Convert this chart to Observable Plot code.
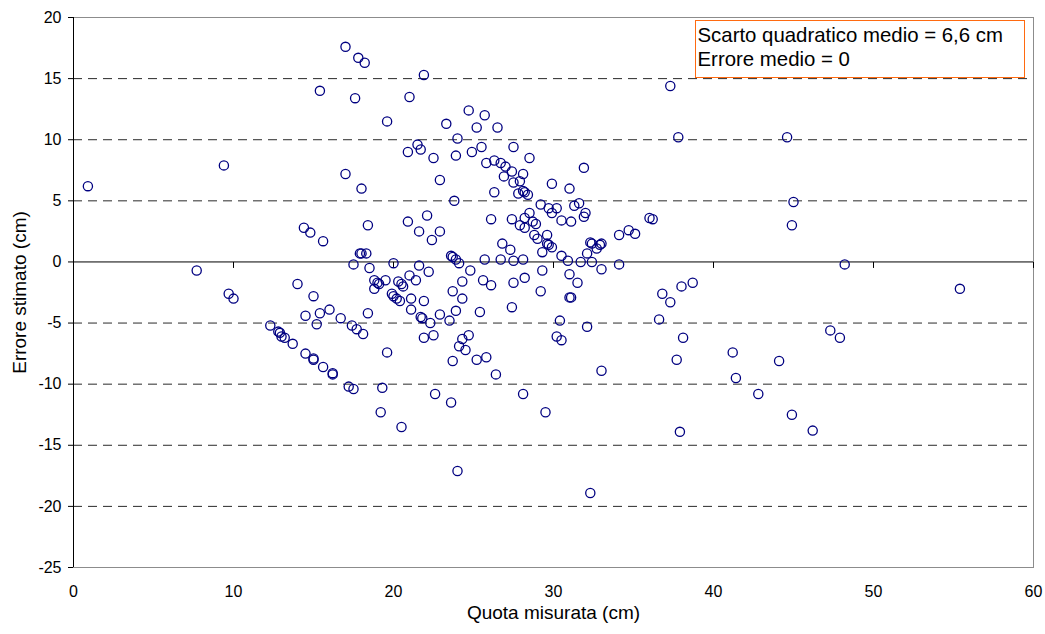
<!DOCTYPE html>
<html>
<head>
<meta charset="utf-8">
<script src="https://cdn.jsdelivr.net/npm/d3@7"></script>
<script src="https://cdn.jsdelivr.net/npm/@observablehq/plot@0.6"></script>
<style>
  body { margin: 0; background: #fff; }
  #chart { position: relative; width: 1045px; height: 634px; font-family: "Liberation Sans", Arial, sans-serif; }
  #chart svg { display: block; }
  #note {
    position: absolute; left: 695px; top: 20px; width: 330px; height: 58px;
    box-sizing: border-box; border: 1.6px solid #ff6a10; background: #fff;
    font-size: 20.4px; line-height: 24px; padding: 2px 0 0 1.5px; color: #000; white-space: nowrap;
  }
</style>
</head>
<body>
<div id="chart"><div id="note"></div></div>
<script>
// Quota misurata (cm) and the corresponding estimation error (cm)
const quota = [
  17.0, 17.8, 18.2, 15.4, 17.6, 9.4, 0.9, 17.0, 18.0, 21.9,
  21.0, 19.6, 23.3, 24.7, 25.7, 25.2, 26.5, 24.0, 21.5, 20.9,
  21.7, 22.5, 23.9, 24.9, 25.5, 27.5, 28.5, 25.8, 26.3, 26.7,
  27.0, 27.4, 26.9, 28.1, 27.5, 27.9, 27.8, 28.1, 28.2, 28.4,
  26.3, 22.9, 31.9, 29.9, 31.0, 23.8, 29.2, 29.7, 30.2, 31.3,
  31.6, 29.9, 28.5, 22.1, 32.0, 31.9, 28.2, 27.4, 26.1, 20.9,
  18.4, 21.6, 22.9, 22.4, 28.7, 28.9, 27.9, 28.2, 30.5, 31.1,
  28.8, 29.0, 29.6, 29.6, 29.7, 29.9, 29.3, 26.8, 27.3, 34.1,
  34.7, 35.1, 32.3, 32.4, 33.0, 32.9, 32.7, 32.1, 30.5, 30.9,
  31.7, 32.4, 34.1, 33.0, 31.0, 31.5, 29.3, 28.2, 27.5, 29.2,
  31.1, 31.0, 27.4, 28.1, 27.5, 26.7, 25.7, 24.8, 25.6, 26.1,
  24.3, 23.7, 24.3, 23.9, 25.4, 23.6, 23.7, 23.9, 24.1, 21.6,
  22.2, 21.4, 21.0, 20.0, 20.3, 20.5, 20.6, 19.9, 20.0, 20.2,
  20.4, 21.1, 21.9, 21.1, 21.7, 21.8, 22.3, 22.9, 23.5, 21.9,
  22.5, 24.7, 24.3, 24.1, 24.5, 23.7, 25.2, 25.8, 26.4, 28.1,
  30.4, 32.1, 30.2, 30.5, 33.0, 22.6, 23.6, 17.5, 17.9, 18.0,
  18.3, 18.5, 18.8, 19.0, 19.1, 19.5, 18.8, 18.4, 16.7, 17.4,
  17.7, 18.1, 19.6, 17.2, 17.5, 19.3, 19.2, 20.5, 24.0, 29.5,
  32.3, 14.4, 14.8, 15.6, 7.7, 9.7, 10.0, 14.0, 15.0, 14.5,
  15.4, 16.0, 15.2, 12.3, 12.8, 12.9, 13.0, 13.2, 13.7, 14.5,
  15.0, 15.0, 15.6, 16.2, 16.2, 36.0, 36.2, 45.0, 44.9, 48.2,
  55.4, 36.8, 37.3, 38.0, 38.7, 36.6, 38.1, 37.7, 41.2, 41.4,
  44.1, 42.8, 47.3, 47.9, 44.9, 46.2, 37.9, 37.3, 37.8, 44.6
];
const errore = [
  17.6, 16.7, 16.3, 14.0, 13.4, 7.9, 6.2, 7.2, 6.0, 15.3,
  13.5, 11.5, 11.3, 12.4, 12.0, 11.0, 11.0, 10.1, 9.6, 9.0,
  9.2, 8.5, 8.7, 9.0, 9.4, 9.4, 8.5, 8.1, 8.3, 8.1,
  7.8, 7.4, 7.0, 7.2, 6.5, 6.6, 5.6, 5.8, 5.7, 5.5,
  5.7, 6.7, 7.7, 6.4, 6.0, 5.0, 4.7, 4.4, 4.4, 4.6,
  4.8, 4.0, 4.0, 3.8, 4.0, 3.7, 3.6, 3.5, 3.5, 3.3,
  3.0, 2.5, 2.5, 1.8, 3.3, 3.1, 3.0, 2.8, 3.4, 3.3,
  2.2, 1.9, 2.2, 1.5, 1.4, 1.2, 0.8, 1.5, 1.0, 2.2,
  2.6, 2.3, 1.6, 1.5, 1.5, 1.4, 1.1, 0.7, 0.5, 0.1,
  0.0, 0.0, -0.2, -0.6, -1.0, -1.7, -0.7, -1.3, -1.7, -2.4,
  -2.9, -2.9, -3.7, 0.2, 0.1, 0.2, 0.2, -0.7, -1.5, -1.9,
  -1.6, -2.4, -3.0, -4.0, -4.1, 0.5, 0.4, 0.2, -0.1, -0.3,
  -0.8, -1.5, -1.1, -0.1, -1.6, -1.8, -2.0, -2.6, -2.8, -3.0,
  -3.2, -3.0, -3.2, -3.9, -4.5, -4.6, -5.0, -4.3, -4.8, -6.2,
  -6.0, -6.0, -6.3, -6.9, -7.2, -8.1, -8.0, -7.8, -9.2, -10.8,
  -4.8, -5.3, -6.1, -6.4, -8.9, -10.8, -11.5, -0.2, 0.7, 0.7,
  0.7, -0.5, -1.5, -1.7, -1.8, -1.5, -2.2, -4.2, -4.6, -5.2,
  -5.5, -5.9, -7.4, -10.2, -10.4, -10.3, -12.3, -13.5, -17.1, -12.3,
  -18.9, 2.8, 2.4, 1.7, -0.7, -2.6, -3.0, -1.8, -2.8, -4.4,
  -4.2, -3.9, -5.1, -5.2, -5.7, -5.8, -6.1, -6.2, -6.7, -7.5,
  -7.9, -8.0, -8.6, -9.1, -9.2, 3.6, 3.5, 4.9, 3.0, -0.2,
  -2.2, -2.6, -3.3, -2.0, -1.7, -4.7, -6.2, -8.0, -7.4, -9.5,
  -8.1, -10.8, -5.6, -6.2, -12.5, -13.8, -13.9, 14.4, 10.2, 10.2
];

// Axis ticks and dashed reference levels
const xTicks = [0, 10, 20, 30, 40, 50, 60];
const yTicks = [20, 15, 10, 5, 0, -5, -10, -15, -20, -25];
const gridLevels = [15, 10, 5, -5, -10, -15, -20];

const xTitle = "Quota misurata (cm)";
const yTitle = "Errore stimato (cm)";
const noteLines = ["Scarto quadratico medio = 6,6 cm", "Errore medio = 0"];

const points = quota.map((q, i) => ({quota: q, errore: errore[i]}));

// short downward stroke used for the tick marks on the zero line
const tickDown = {draw(context) { context.moveTo(0, 0); context.lineTo(0, 6); }};

const chart = Plot.plot({
  width: 1045,
  height: 634,
  marginLeft: 73,
  marginRight: 12,
  marginTop: 17,
  marginBottom: 67,
  style: {fontFamily: '"Liberation Sans", Arial, sans-serif', fontSize: "16px", color: "#000", background: "#fff"},
  x: {domain: [0, 60]},
  y: {domain: [-25, 20]},
  marks: [
    Plot.frame({stroke: "#8c8c8c"}),
    Plot.ruleY(gridLevels, {stroke: "#2a2a2a", strokeDasharray: "9,6"}),
    Plot.ruleY([0], {stroke: "#000"}),
    Plot.ruleX([0], {stroke: "#000"}),
    Plot.dot(xTicks, {x: d => d, y: 0, symbol: tickDown, stroke: "#000", strokeWidth: 1, fill: "none"}),
    Plot.axisY({ticks: yTicks, tickFormat: d => `${d}`, tickSize: 5, tickPadding: 7, fontSize: 16, label: null, stroke: "#000"}),
    Plot.axisX({ticks: xTicks, tickFormat: d => `${d}`, anchor: "bottom", tickSize: 0, tickPadding: 18, fontSize: 16, label: null}),
    Plot.text([yTitle], {text: d => d, frameAnchor: "left", textAnchor: "middle", lineAnchor: "middle", rotate: -90, dx: -54, fontSize: 19}),
    Plot.text([xTitle], {text: d => d, frameAnchor: "bottom", textAnchor: "middle", lineAnchor: "middle", dy: 45, fontSize: 19}),
    Plot.dot(points, {x: "quota", y: "errore", r: 4.6, stroke: "#000080", strokeWidth: 1.3, fill: "none"})
  ]
});

const host = document.getElementById("chart");
host.insertBefore(chart, host.firstChild);
const note = document.getElementById("note");
note.innerHTML = noteLines.join("<br>");
</script>
</body>
</html>
